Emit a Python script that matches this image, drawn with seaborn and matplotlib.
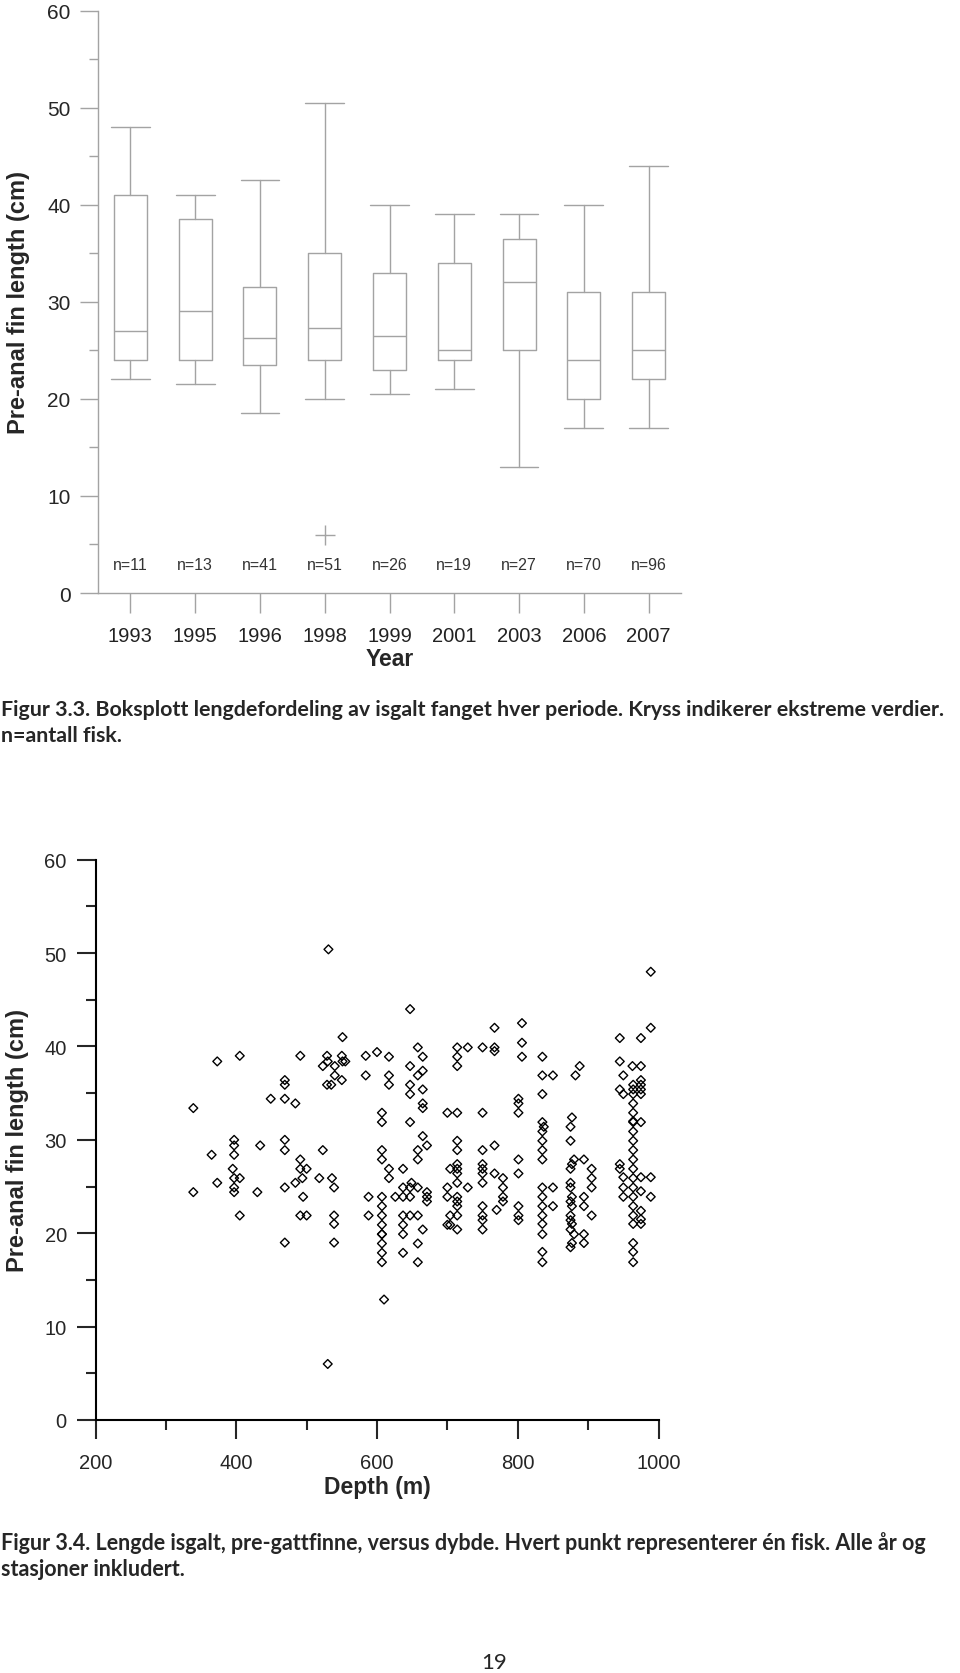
import numpy as np
import pandas as pd
import matplotlib
matplotlib.use("Agg")
import matplotlib.pyplot as plt
import seaborn as sns

# Box plot summary per year
years = ['1993', '1995', '1996', '1998', '1999', '2001', '2003', '2006', '2007']
whisk_lo = [22.0, 21.5, 18.5, 20.0, 20.5, 21.0, 13.0, 17.0, 17.0]
q1 = [24.0, 24.0, 23.5, 24.0, 23.0, 24.0, 25.0, 20.0, 22.0]
median = [27.0, 29.0, 26.3, 27.3, 26.5, 25.0, 32.0, 24.0, 25.0]
q3 = [41.0, 38.5, 31.5, 35.0, 33.0, 34.0, 36.5, 31.0, 31.0]
whisk_hi = [48.0, 41.0, 42.5, 50.5, 40.0, 39.0, 39.0, 40.0, 44.0]
n_fish = [11, 13, 41, 51, 26, 19, 27, 70, 96]
outlier_year = '1998'
outlier_value = 6.0

# Depth (m) vs pre-anal fin length (cm), one point per fish
depth = [
    531, 551, 373, 405, 491, 529, 550, 523, 530, 540, 551, 555, 584, 584, 540,
    550, 529, 535, 469, 469, 449, 469, 484, 339, 397, 397, 397, 365, 434, 469,
    469, 523, 491, 491, 500, 395, 397, 405, 494, 518, 536, 373, 484, 469, 539,
    397, 397, 339, 430, 495, 405, 491, 500, 539, 539, 469, 539, 588, 588, 530,
    647, 767, 658, 714, 729, 750, 767, 767, 600, 617, 665, 714, 714, 647, 665,
    658, 617, 617, 647, 647, 665, 665, 665, 801, 801, 801, 700, 714, 750, 607,
    607, 647, 665, 671, 658, 658, 607, 607, 714, 714, 767, 750, 801, 801, 617,
    617, 637, 704, 714, 714, 714, 750, 750, 750, 750, 767, 779, 779, 779, 779,
    714, 729, 700, 700, 714, 714, 714, 649, 637, 637, 647, 647, 658, 671, 671,
    671, 607, 626, 607, 607, 607, 607, 607, 607, 607, 607, 637, 647, 658, 637,
    637, 665, 637, 658, 658, 610, 704, 704, 700, 714, 714, 750, 750, 750, 750,
    770, 801, 801, 801,
    989, 806, 806, 806, 835, 835, 850, 835, 888, 882, 945, 975, 989, 945, 963,
    975, 950, 945, 950,
    964, 964, 964, 964, 964, 964, 964, 964, 964, 964, 964, 964, 964, 964, 964,
    964, 964, 964, 964, 964, 964,
    975, 975, 975, 975, 975, 975, 989, 989, 975, 950, 950, 950, 945, 945, 975,
    975, 975,
    835, 837, 835, 835, 835, 835, 835, 835, 835, 835, 835, 835, 835, 835,
    850, 850,
    877, 875, 875, 880, 877, 875, 875, 875, 877, 875, 877, 875, 875, 877, 875,
    880, 877, 875,
    894, 905, 905, 905, 894, 894, 905, 894, 894,
]
length = [
    50.4, 41.0, 38.4, 39.0, 39.0, 39.0, 39.0, 37.9, 38.4, 37.9, 38.4, 38.4, 39.0, 36.9, 36.9,
    36.4, 35.9, 35.9, 36.4, 35.9, 34.4, 34.4, 33.9, 33.4, 30.0, 29.4, 28.4, 28.4, 29.4, 30.0,
    28.9, 28.9, 27.9, 26.9, 26.9, 26.9, 25.9, 25.9, 25.9, 25.9, 25.9, 25.4, 25.4, 24.9, 24.9,
    24.9, 24.4, 24.4, 24.4, 23.9, 21.9, 21.9, 21.9, 21.9, 21.0, 19.0, 19.0, 23.9, 21.9, 6.0,
    44.0, 42.0, 39.9, 39.9, 39.9, 39.9, 39.9, 39.5, 39.4, 38.9, 38.9, 38.9, 37.9, 37.9, 37.4,
    36.9, 36.9, 35.9, 35.9, 34.9, 35.4, 33.9, 33.4, 34.4, 33.9, 32.9, 32.9, 32.9, 32.9, 32.9,
    31.9, 31.9, 30.4, 29.4, 28.9, 27.9, 28.9, 27.9, 29.9, 28.9, 29.4, 28.9, 27.9, 26.4, 26.9,
    25.9, 26.9, 26.9, 27.4, 26.9, 26.4, 27.4, 26.9, 26.4, 25.4, 26.4, 25.9, 24.9, 23.9, 23.4,
    25.4, 24.9, 24.9, 23.9, 23.9, 23.4, 22.9, 25.4, 24.9, 23.9, 24.9, 23.9, 24.9, 24.4, 23.9,
    23.4, 23.9, 23.9, 22.9, 21.9, 20.9, 19.9, 19.9, 18.9, 17.9, 16.9, 21.9, 21.9, 21.9, 20.9,
    19.9, 20.4, 17.9, 18.9, 16.9, 12.9, 21.9, 20.9, 20.9, 21.9, 20.4, 22.9, 21.9, 21.4, 20.4,
    22.5, 22.9, 21.9, 21.4,
    48.0, 42.5, 40.4, 38.9, 38.9, 36.9, 36.9, 34.9, 37.9, 36.9, 40.9, 40.9, 42.0, 38.4, 37.9,
    37.9, 36.9, 35.4, 34.9,
    35.9, 35.4, 34.9, 33.9, 32.9, 32.0, 31.9, 30.9, 29.9, 28.9, 27.9, 26.9, 25.9, 24.9, 23.9,
    22.9, 21.9, 21.0, 18.95, 18.0, 16.9,
    36.4, 35.9, 35.4, 34.9, 31.9, 26.0, 26.0, 23.9, 24.5, 26.0, 24.9, 23.9, 27.4, 26.9, 22.4,
    21.5, 21.0,
    31.9, 31.4, 30.9, 29.9, 28.9, 27.9, 24.9, 23.9, 22.9, 21.9, 21.0, 19.9, 18.0, 16.9,
    24.9, 22.9,
    32.4, 31.4, 29.9, 27.9, 27.4, 26.9, 25.4, 24.9, 23.9, 23.4, 22.9, 21.9, 21.4, 21.0, 20.4,
    19.9, 18.95, 18.5,
    27.9, 26.9, 25.9, 24.9, 23.9, 22.9, 21.9, 19.9, 18.95,
]

caption1 = ["Figur 3.3. Boksplott lengdefordeling av isgalt fanget hver periode. Kryss indikerer ekstreme verdier.",
            "n=antall fisk."]
caption2 = ["Figur 3.4. Lengde isgalt, pre-gattfinne, versus dybde. Hvert punkt representerer én fisk. Alle år og",
            "stasjoner inkludert."]

sns.set_style("ticks")
plt.rcParams['font.family'] = ['Liberation Sans', 'DejaVu Sans']

W, H = 960, 1674
fig = plt.figure(figsize=(W / 100, H / 100), dpi=100)
GREY = '#a3a3a3'

# ---- Box plot per year ----
ax1 = fig.add_axes([98 / W, 1 - 594 / H, 583 / W, 582.5 / H])
stats = []
for i, yr in enumerate(years):
    stats.append({
        'label': yr, 'med': median[i], 'q1': q1[i], 'q3': q3[i],
        'whislo': whisk_lo[i], 'whishi': whisk_hi[i],
        'fliers': [outlier_value] if yr == outlier_year else [],
    })
line_kw = dict(color=GREY, linewidth=1.0)
ax1.bxp(stats, positions=range(len(years)), widths=0.51, capwidths=0.6,
        boxprops=line_kw, whiskerprops=line_kw, capprops=line_kw,
        medianprops=line_kw,
        flierprops=dict(marker='+', markersize=14, markeredgecolor=GREY,
                        markeredgewidth=1.0))
for i, n in enumerate(n_fish):
    ax1.text(i, 2.9, f"n={n}", ha='center', va='center', fontsize=11.5, color='#333333')

ax1.set_xlim(-0.5, len(years) - 0.5)
ax1.set_ylim(0, 60)
ax1.set_xticks(range(len(years)))
ax1.set_xticklabels(years)
ax1.set_yticks(np.arange(0, 61, 10))
ax1.set_yticks(np.arange(5, 60, 10), minor=True)
ax1.tick_params(axis='x', length=14.4, width=1, color=GREY, labelsize=14.5, pad=9.5, labelcolor='#222222')
ax1.tick_params(axis='y', which='major', length=13, width=1, color=GREY, labelsize=15, pad=6.8)
ax1.tick_params(axis='y', which='minor', length=6.5, width=1, color=GREY)
for s in ['top', 'right']:
    ax1.spines[s].set_visible(False)
for s in ['left', 'bottom']:
    ax1.spines[s].set_color(GREY)
    ax1.spines[s].set_linewidth(1.0)
ax1.set_xlabel('Year', fontsize=16.5, fontweight='bold', va='center')
ax1.xaxis.set_label_coords(0.5, -0.113)
ax1.set_ylabel('Pre-anal fin length (cm)', fontsize=17, fontweight='bold', va='center')
ax1.yaxis.set_label_coords(-0.137, 0.5)

# ---- Scatter: length vs depth ----
ax2 = fig.add_axes([95.5 / W, 1 - 1421 / H, 563 / W, 560.3 / H])
pts = pd.DataFrame({'depth': depth, 'length': length})
sns.scatterplot(data=pts, x='depth', y='length', marker='D', s=20,
                facecolor='none', edgecolor='black', linewidth=1.0, ax=ax2)
ax2.set_xlim(200, 1000)
ax2.set_ylim(0, 60)
ax2.set_xticks(np.arange(200, 1001, 200))
ax2.set_xticks(np.arange(300, 1000, 200), minor=True)
ax2.set_yticks(np.arange(0, 61, 10))
ax2.set_yticks(np.arange(5, 60, 10), minor=True)
ax2.tick_params(axis='x', which='major', length=13.7, width=1.5, labelsize=14.5, pad=10.4)
ax2.tick_params(axis='x', which='minor', length=7.5, width=1.5)
ax2.tick_params(axis='y', which='major', length=14, width=1.5, labelsize=14.5, pad=6.7)
ax2.tick_params(axis='y', which='minor', length=7, width=1.5)
for s in ['top', 'right']:
    ax2.spines[s].set_visible(False)
for s in ['left', 'bottom']:
    ax2.spines[s].set_linewidth(1.5)
    ax2.spines[s].set_color('black')
ax2.set_xlabel('Depth (m)', fontsize=16.5, fontweight='bold', va='center')
ax2.xaxis.set_label_coords(0.5, -0.1178)
ax2.set_ylabel('Pre-anal fin length (cm)', fontsize=17, fontweight='bold', va='center')
ax2.yaxis.set_label_coords(-0.1377, 0.5)

# ---- Captions and page number ----
cap_font = ['Lato', 'DejaVu Sans']
for line, y in zip(caption1, [710, 736]):
    fig.text(1 / W, 1 - y / H, line, fontsize=15.4, fontweight='bold', family=cap_font, va='center')
for line, y in zip(caption2, [1543, 1570]):
    fig.text(1 / W, 1 - y / H, line, fontsize=15.5, fontweight='bold', family=cap_font, va='center')
fig.text(494 / W, 1 - 1663 / H, '19', fontsize=16, family=cap_font, ha='center', va='center')

fig.savefig('out.png', dpi=100)
